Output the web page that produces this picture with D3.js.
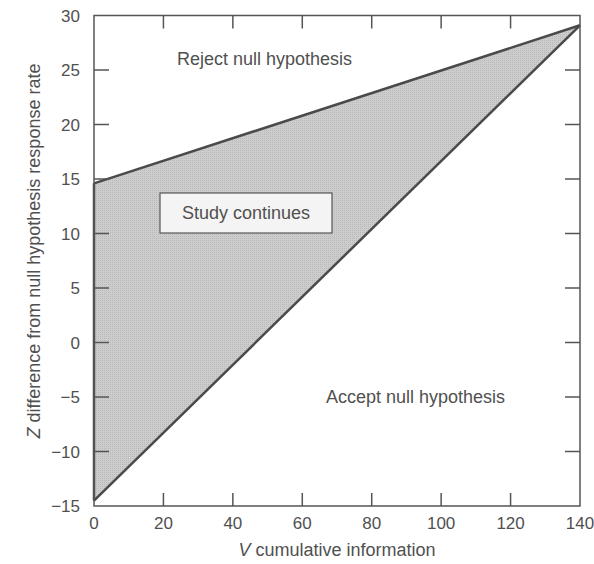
<!DOCTYPE html>
<html>
<head>
<meta charset="utf-8">
<script src="https://cdn.jsdelivr.net/npm/d3@7"></script>
<style>
  body { margin: 0; background: #fff; }
  text { font-family: "Liberation Sans", Arial, sans-serif; fill: #505050; }
</style>
</head>
<body>
<svg id="chart" width="594" height="564"></svg>
<script>
// boundary data
const infoValues = [0, 140];
const upperBoundary = [14.6, 29.1];
const lowerBoundary = [-14.5, 29.1];
const xTicks = [0, 20, 40, 60, 80, 100, 120, 140];
const yTicks = [-15, -10, -5, 0, 5, 10, 15, 20, 25, 30];

const svg = d3.select('#chart');
const x = d3.scaleLinear().domain([0, 140]).range([94, 580]);
const y = d3.scaleLinear().domain([-15, 30]).range([506, 15.5]);

const ink = '#4a4a4a';

// continuation region (triangle)
const region = [
    [infoValues[0], lowerBoundary[0]],
    [infoValues[1], lowerBoundary[1]],
    [infoValues[0], upperBoundary[0]]
];

const defs = svg.append('defs');
const pat = defs.append('pattern').attr('id', 'stip').attr('width', 2).attr('height', 2)
    .attr('patternUnits', 'userSpaceOnUse');
pat.append('rect').attr('width', 2).attr('height', 2).attr('fill', '#cdcdcd');
pat.append('rect').attr('width', 1).attr('height', 1).attr('fill', '#b9b9b9');

svg.append('path')
    .attr('d', d3.line().x(d => x(d[0])).y(d => y(d[1]))(region) + 'Z')
    .attr('fill', 'url(#stip)');

// boundary lines
const line = d3.line().x(d => x(d[0])).y(d => y(d[1]));
svg.append('path')
    .attr('d', line(infoValues.map((v, i) => [v, upperBoundary[i]])))
    .attr('fill', 'none').attr('stroke', ink).attr('stroke-width', 2.5);
svg.append('path')
    .attr('d', line(infoValues.map((v, i) => [v, lowerBoundary[i]])))
    .attr('fill', 'none').attr('stroke', ink).attr('stroke-width', 2.5);
svg.append('path')
    .attr('d', line([[0, lowerBoundary[0]], [0, upperBoundary[0]]]))
    .attr('fill', 'none').attr('stroke', ink).attr('stroke-width', 2.5);

// frame
svg.append('rect')
    .attr('x', x(0)).attr('y', y(30))
    .attr('width', x(140) - x(0)).attr('height', y(-15) - y(30))
    .attr('fill', 'none').attr('stroke', '#555').attr('stroke-width', 1.5);

// inward ticks on all four sides (not at corners)
const innerX = xTicks.slice(1, -1);
const innerY = yTicks.slice(1, -1);
const tickG = svg.append('g').attr('stroke', '#555').attr('stroke-width', 1.5);
innerX.forEach(t => {
    tickG.append('line').attr('x1', x(t)).attr('x2', x(t)).attr('y1', y(-15)).attr('y2', y(-15) - 13);
    tickG.append('line').attr('x1', x(t)).attr('x2', x(t)).attr('y1', y(30)).attr('y2', y(30) + 13);
});
innerY.forEach(t => {
    tickG.append('line').attr('x1', x(0)).attr('x2', x(0) + 15).attr('y1', y(t)).attr('y2', y(t));
    tickG.append('line').attr('x1', x(140)).attr('x2', x(140) - 15).attr('y1', y(t)).attr('y2', y(t));
});

// tick labels
svg.append('g').selectAll('text').data(xTicks).join('text')
    .attr('x', d => x(d)).attr('y', 529)
    .attr('text-anchor', 'middle').attr('font-size', 17)
    .text(d => d);
svg.append('g').selectAll('text').data(yTicks).join('text')
    .attr('x', 80).attr('y', d => y(d) + 6)
    .attr('text-anchor', 'end').attr('font-size', 17)
    .text(d => d < 0 ? '\u2212' + Math.abs(d) : d);

// axis titles
const xt = svg.append('text').attr('x', 337).attr('y', 556)
    .attr('text-anchor', 'middle').attr('font-size', 18);
xt.append('tspan').attr('font-style', 'italic').text('V');
xt.append('tspan').text(' cumulative information');

const yt = svg.append('text')
    .attr('transform', 'translate(40,251) rotate(-90)')
    .attr('text-anchor', 'middle').attr('font-size', 18);
yt.append('tspan').attr('font-style', 'italic').text('Z');
yt.append('tspan').text(' difference from null hypothesis response rate');

// region labels
svg.append('text').attr('x', 177).attr('y', 65).attr('font-size', 18)
    .text('Reject null hypothesis');
svg.append('text').attr('x', 326).attr('y', 403).attr('font-size', 18)
    .text('Accept null hypothesis');

svg.append('rect').attr('x', 160).attr('y', 193).attr('width', 172).attr('height', 40)
    .attr('fill', '#f4f4f4').attr('stroke', '#555').attr('stroke-width', 1.2);
svg.append('text').attr('x', 246).attr('y', 219).attr('text-anchor', 'middle').attr('font-size', 18)
    .text('Study continues');
</script>
</body>
</html>
